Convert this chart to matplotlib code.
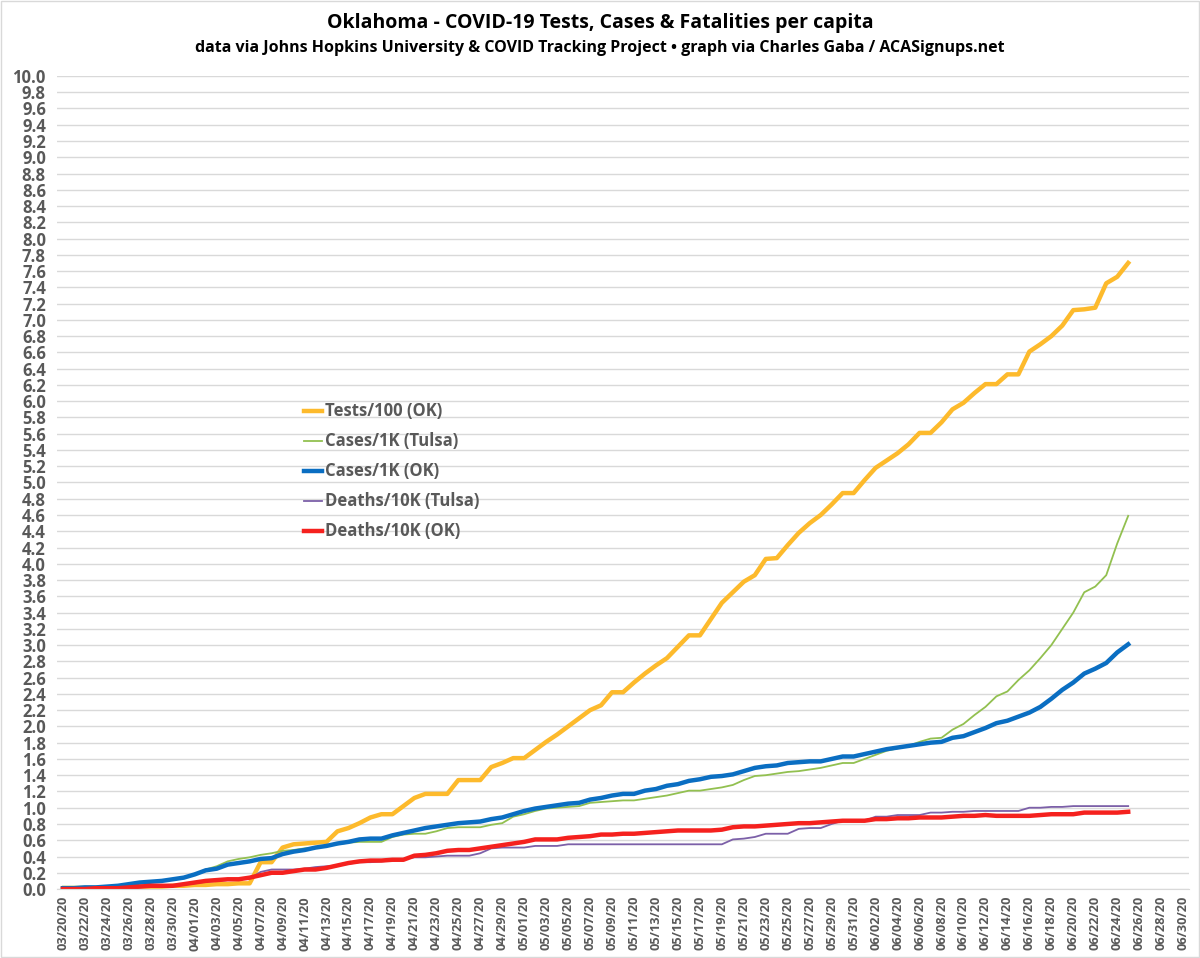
import pandas as pd
import matplotlib
matplotlib.use("Agg")
import matplotlib.pyplot as plt

plt.rcParams['font.family'] = ['Open Sans', 'DejaVu Sans']
plt.rcParams['font.weight'] = 'bold'

# daily values from 03/20/20 to 06/25/20
start = '2020-03-20'
axis_end = '2020-06-30'

tests_ok = [
    0.01, 0.01, 0.01, 0.01, 0.02, 0.02, 0.02, 0.03, 0.03, 0.03,
    0.04, 0.04, 0.05, 0.05, 0.06, 0.06, 0.07, 0.07, 0.33, 0.33,
    0.51, 0.55, 0.56, 0.57, 0.58, 0.71, 0.75, 0.81, 0.88, 0.92,
    0.92, 1.02, 1.12, 1.17, 1.17, 1.17, 1.34, 1.34, 1.34, 1.50,
    1.55, 1.61, 1.61, 1.71, 1.81, 1.90, 2.00, 2.10, 2.20, 2.26,
    2.42, 2.42, 2.54, 2.65, 2.75, 2.84, 2.98, 3.12, 3.12, 3.32,
    3.52, 3.65, 3.78, 3.86, 4.06, 4.07, 4.23, 4.38, 4.50, 4.60,
    4.73, 4.87, 4.87, 5.03, 5.18, 5.27, 5.36, 5.47, 5.61, 5.61,
    5.74, 5.90, 5.98, 6.10, 6.21, 6.21, 6.33, 6.33, 6.61, 6.70,
    6.80, 6.93, 7.12, 7.13, 7.15, 7.45, 7.53, 7.70]

cases_tulsa = [
    0.03, 0.03, 0.03, 0.03, 0.03, 0.04, 0.05, 0.07, 0.09, 0.10,
    0.12, 0.14, 0.18, 0.24, 0.28, 0.34, 0.37, 0.39, 0.42, 0.44,
    0.47, 0.48, 0.50, 0.51, 0.53, 0.55, 0.57, 0.58, 0.58, 0.58,
    0.64, 0.67, 0.68, 0.68, 0.71, 0.75, 0.76, 0.76, 0.76, 0.79,
    0.81, 0.89, 0.92, 0.96, 0.99, 1.00, 1.01, 1.02, 1.06, 1.07,
    1.08, 1.09, 1.09, 1.11, 1.13, 1.15, 1.18, 1.21, 1.21, 1.23,
    1.25, 1.28, 1.34, 1.39, 1.40, 1.42, 1.44, 1.45, 1.47, 1.49,
    1.52, 1.55, 1.55, 1.60, 1.65, 1.70, 1.73, 1.76, 1.81, 1.85,
    1.86, 1.96, 2.03, 2.14, 2.24, 2.37, 2.43, 2.57, 2.69, 2.84,
    3.00, 3.20, 3.40, 3.65, 3.72, 3.86, 4.25, 4.59]

cases_ok = [
    0.01, 0.01, 0.02, 0.02, 0.03, 0.04, 0.06, 0.08, 0.09, 0.10,
    0.12, 0.14, 0.18, 0.23, 0.25, 0.30, 0.32, 0.34, 0.37, 0.38,
    0.43, 0.46, 0.48, 0.51, 0.53, 0.56, 0.58, 0.61, 0.62, 0.62,
    0.66, 0.69, 0.72, 0.75, 0.77, 0.79, 0.81, 0.82, 0.83, 0.86,
    0.88, 0.92, 0.96, 0.99, 1.01, 1.03, 1.05, 1.06, 1.10, 1.12,
    1.15, 1.17, 1.17, 1.21, 1.23, 1.27, 1.29, 1.33, 1.35, 1.38,
    1.39, 1.41, 1.45, 1.49, 1.51, 1.52, 1.55, 1.56, 1.57, 1.57,
    1.60, 1.63, 1.63, 1.66, 1.69, 1.72, 1.74, 1.76, 1.78, 1.80,
    1.81, 1.86, 1.88, 1.93, 1.98, 2.04, 2.07, 2.12, 2.17, 2.24,
    2.34, 2.45, 2.54, 2.65, 2.71, 2.78, 2.91, 3.01]

deaths_tulsa = [
    0.00, 0.00, 0.00, 0.00, 0.00, 0.01, 0.01, 0.02, 0.03, 0.03,
    0.04, 0.05, 0.07, 0.09, 0.10, 0.11, 0.12, 0.13, 0.21, 0.24,
    0.24, 0.24, 0.25, 0.27, 0.28, 0.29, 0.31, 0.33, 0.33, 0.34,
    0.35, 0.37, 0.39, 0.39, 0.40, 0.41, 0.41, 0.41, 0.44, 0.50,
    0.51, 0.51, 0.51, 0.53, 0.53, 0.53, 0.55, 0.55, 0.55, 0.55,
    0.55, 0.55, 0.55, 0.55, 0.55, 0.55, 0.55, 0.55, 0.55, 0.55,
    0.55, 0.61, 0.62, 0.64, 0.68, 0.68, 0.68, 0.74, 0.75, 0.75,
    0.80, 0.84, 0.84, 0.84, 0.89, 0.89, 0.91, 0.91, 0.91, 0.94,
    0.94, 0.95, 0.95, 0.96, 0.96, 0.96, 0.96, 0.96, 1.00, 1.00,
    1.01, 1.01, 1.02, 1.02, 1.02, 1.02, 1.02, 1.02]

deaths_ok = [
    0.00, 0.00, 0.00, 0.01, 0.01, 0.01, 0.02, 0.03, 0.04, 0.04,
    0.04, 0.06, 0.08, 0.10, 0.11, 0.12, 0.12, 0.14, 0.17, 0.20,
    0.20, 0.22, 0.24, 0.24, 0.26, 0.29, 0.32, 0.34, 0.35, 0.35,
    0.36, 0.36, 0.41, 0.42, 0.44, 0.47, 0.48, 0.48, 0.50, 0.52,
    0.54, 0.56, 0.58, 0.61, 0.61, 0.61, 0.63, 0.64, 0.65, 0.67,
    0.67, 0.68, 0.68, 0.69, 0.70, 0.71, 0.72, 0.72, 0.72, 0.72,
    0.73, 0.76, 0.77, 0.77, 0.78, 0.79, 0.80, 0.81, 0.81, 0.82,
    0.83, 0.84, 0.84, 0.84, 0.86, 0.86, 0.87, 0.87, 0.88, 0.88,
    0.88, 0.89, 0.90, 0.90, 0.91, 0.90, 0.90, 0.90, 0.90, 0.91,
    0.92, 0.92, 0.92, 0.94, 0.94, 0.94, 0.94, 0.95]

labels = ['Tests/100 (OK)', 'Cases/1K (Tulsa)', 'Cases/1K (OK)',
          'Deaths/10K (Tulsa)', 'Deaths/10K (OK)']

dates = pd.date_range(start, periods=len(tests_ok))
tick_dates = pd.date_range(start, axis_end, freq='2D')
series = [tests_ok, cases_tulsa, cases_ok, deaths_tulsa, deaths_ok]
colors = ['#FDBA2C', '#92C050', '#0A6EC2', '#7C60A8', '#F5211E']
widths = [3.2, 1.3, 3.2, 1.3, 3.2]

fig = plt.figure(figsize=(12, 9.58), dpi=100)
ax = fig.add_axes([0.0475, 0.072, 0.943, 0.8487])

for vals, lab, c, w in zip(series, labels, colors, widths):
    ax.plot(dates, vals, color=c, lw=w, label=lab, solid_joinstyle='round')

grey = '#595959'
ax.set_ylim(0, 10)
ax.set_yticks([i / 5 for i in range(51)])
ax.set_yticklabels(['%.1f' % (i / 5) for i in range(51)], fontweight='bold')
ax.set_xlim(pd.Timestamp(start) - pd.Timedelta(hours=13),
            pd.Timestamp(axis_end) + pd.Timedelta(hours=12))
ax.set_xticks(tick_dates)
ax.set_xticklabels([d.strftime('%m/%d/%y') for d in tick_dates],
                   rotation=90, fontweight='bold')
ax.grid(axis='y', color='#D9D9D9', lw=1)
ax.set_axisbelow(True)
for s in ['top', 'right', 'left']:
    ax.spines[s].set_visible(False)
ax.spines['bottom'].set_color('#D9D9D9')
ax.tick_params(axis='both', length=0, colors=grey)
ax.tick_params(axis='y', labelsize=12, pad=8)
ax.tick_params(axis='x', labelsize=9.2, pad=5)

leg = ax.legend(loc='upper left', bbox_to_anchor=(0.205, 0.617), frameon=False,
                handlelength=1.1, handletextpad=0.15, labelspacing=0.72,
                prop={'weight': 'bold', 'size': 12})
for t in leg.get_texts():
    t.set_color(grey)

fig.text(0.5, 0.976, 'Oklahoma - COVID-19 Tests, Cases & Fatalities per capita',
         ha='center', va='center', fontsize=14, fontweight='bold', color='black')
fig.text(0.5, 0.950,
         'data via Johns Hopkins University & COVID Tracking Project \u2022 graph via Charles Gaba / ACASignups.net',
         ha='center', va='center', fontsize=11.5, fontweight='bold', color='black')

fig.patches.append(plt.Rectangle((0.001, 0.001), 0.998, 0.998, transform=fig.transFigure,
                                 fill=False, edgecolor='#D9D9D9', lw=1))

fig.savefig('out.png', dpi=100)
